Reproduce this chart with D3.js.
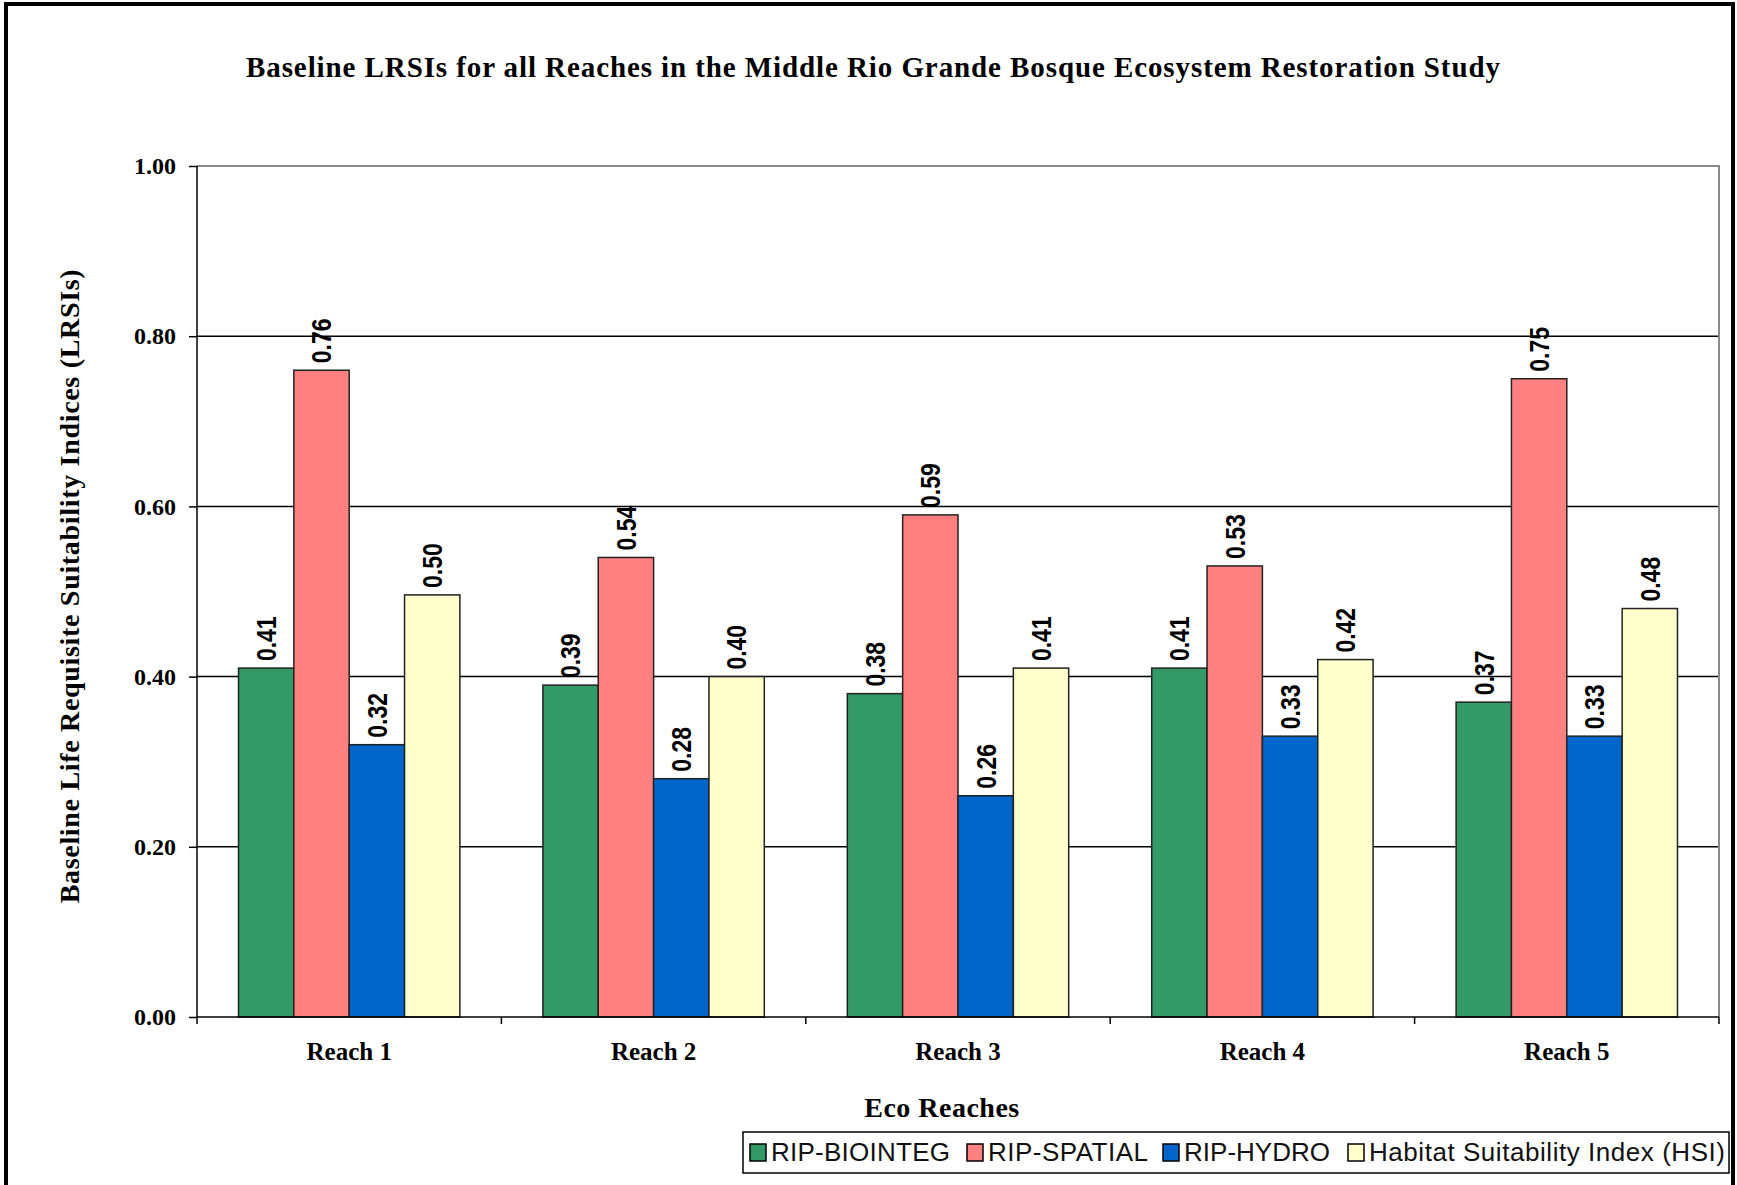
<!DOCTYPE html>
<html>
<head>
<meta charset="utf-8">
<script src="https://cdn.jsdelivr.net/npm/d3@7"></script>
<style>
  html, body { margin: 0; padding: 0; background: #fff; }
  svg { display: block; }
</style>
</head>
<body>
<svg id="chart" width="1737" height="1185"></svg>
<script>
// ---- DATA ----
const categories = ["Reach 1", "Reach 2", "Reach 3", "Reach 4", "Reach 5"];
const seriesNames = ["RIP-BIOINTEG", "RIP-SPATIAL", "RIP-HYDRO", "Habitat Suitability Index (HSI)"];
const ripBioInteg = [0.41, 0.39, 0.38, 0.41, 0.37];
const ripSpatial  = [0.76, 0.54, 0.59, 0.53, 0.75];
const ripHydro    = [0.32, 0.28, 0.26, 0.33, 0.33];
const hsi         = [0.496, 0.40, 0.41, 0.42, 0.48];
const yTickValues = [0, 0.2, 0.4, 0.6, 0.8, 1.0];
const titleText = "Baseline LRSIs for all Reaches in the Middle Rio Grande Bosque Ecosystem Restoration Study";
const yTitleText = "Baseline Life Requisite Suitability Indices (LRSIs)";
const xTitleText = "Eco Reaches";

const seriesValues = [ripBioInteg, ripSpatial, ripHydro, hsi];
const colors = ["#339966", "#FF8080", "#0066CC", "#FFFFCC"];

const svg = d3.select("#chart");
const W = 1737, H = 1185;
const plot = { left: 197, right: 1719, top: 166, bottom: 1017 };

// outer frame
svg.append("rect").attr("x", 6).attr("y", 4).attr("width", W - 10).attr("height", H + 20)
  .attr("fill", "none").attr("stroke", "#000").attr("stroke-width", 4);

const x0 = d3.scaleBand().domain(categories).range([plot.left, plot.right]).padding(0);
const bw = x0.bandwidth();
const gapHalf = bw * 0.75 / 5.5;
const x1 = d3.scaleBand().domain(d3.range(seriesNames.length)).range([gapHalf, bw - gapHalf]).padding(0);
const y = d3.scaleLinear().domain([0, 1]).range([plot.bottom, plot.top]);

// gridlines
svg.append("g").selectAll("line").data(yTickValues.filter(v => v > 0 && v < 1)).join("line")
  .attr("x1", plot.left).attr("x2", plot.right)
  .attr("y1", d => y(d)).attr("y2", d => y(d))
  .attr("stroke", "#000").attr("stroke-width", 1.5);

// plot border top/right (gray)
svg.append("path")
  .attr("d", `M${plot.left},${y(1)}H${plot.right}V${plot.bottom}`)
  .attr("fill", "none").attr("stroke", "#8a8a8a").attr("stroke-width", 2);

// bars
const rows = categories.map((c, i) => ({ cat: c, vals: seriesValues.map(s => s[i]) }));
const groups = svg.append("g").selectAll("g").data(rows).join("g")
  .attr("transform", d => `translate(${x0(d.cat)},0)`);
groups.selectAll("rect").data(d => d.vals.map((v, k) => ({ v, k }))).join("rect")
  .attr("x", d => x1(d.k)).attr("width", x1.bandwidth())
  .attr("y", d => y(d.v)).attr("height", d => y(0) - y(d.v))
  .attr("fill", d => colors[d.k]).attr("stroke", "#222").attr("stroke-width", 1.5);

// data labels (narrow bold sans, emulated by horizontal compression)
groups.selectAll("text").data(d => d.vals.map((v, k) => ({ v, k }))).join("text")
  .attr("transform", d => `translate(${x1(d.k) + x1.bandwidth() / 2},${y(d.v) - 7}) rotate(-90) scale(0.82,1)`)
  .attr("text-anchor", "start").attr("dominant-baseline", "central")
  .style("font-family", "'Liberation Sans', Arial, sans-serif")
  .style("font-weight", "bold").style("font-size", "28px").attr("fill", "#000")
  .text(d => d.v.toFixed(2));

// y axis
const yAxis = d3.axisLeft(y).tickValues(yTickValues).tickFormat(d3.format(".2f")).tickSize(8).tickPadding(13);
const gy = svg.append("g").attr("transform", `translate(${plot.left},0)`).call(yAxis);
gy.select(".domain").attr("stroke", "#000").attr("stroke-width", 1.5).attr("d", `M0,${plot.top}V${plot.bottom}`);
gy.selectAll(".tick line").attr("stroke", "#000").attr("stroke-width", 1.5);
gy.selectAll(".tick text").style("font-family", "'Liberation Serif', 'Times New Roman', serif")
  .style("font-weight", "bold").style("font-size", "24px").attr("fill", "#000");

// x axis
const xAxis = d3.axisBottom(x0).tickSize(0).tickPadding(0).tickFormat(() => "");
const gx = svg.append("g").attr("transform", `translate(0,${plot.bottom})`).call(xAxis);
gx.select(".domain").attr("stroke", "#000").attr("stroke-width", 1.5).attr("d", `M${plot.left},0H${plot.right}`);
const boundaries = categories.map(c => x0(c)).concat([plot.right]);
gx.selectAll("line.bound").data(boundaries).join("line").attr("class", "bound")
  .attr("x1", d => d).attr("x2", d => d).attr("y1", 0).attr("y2", 7)
  .attr("stroke", "#000").attr("stroke-width", 1.5);
svg.append("g").selectAll("text").data(categories).join("text")
  .attr("x", d => x0(d) + bw / 2).attr("y", 1060).attr("text-anchor", "middle")
  .style("font-family", "'Liberation Serif', 'Times New Roman', serif")
  .style("font-weight", "bold").style("font-size", "25px").text(d => d);

// helper to fit text to width using letter-spacing
function fit(sel, target) {
  const n = sel.text().length;
  const len = sel.node().getComputedTextLength();
  sel.style("letter-spacing", ((target - len) / (n - 1)) + "px");
}

// title
const title = svg.append("text").attr("x", 246).attr("y", 77).attr("text-anchor", "start")
  .style("font-family", "'Liberation Serif', 'Times New Roman', serif")
  .style("font-weight", "bold").style("font-size", "29px").text(titleText);
fit(title, 1254);

// y title
const yt = svg.append("text").attr("transform", `translate(79,${586}) rotate(-90)`).attr("text-anchor", "middle")
  .style("font-family", "'Liberation Serif', 'Times New Roman', serif")
  .style("font-weight", "bold").style("font-size", "28px").text(yTitleText);
fit(yt, 634);

// x title
const xt = svg.append("text").attr("x", 942).attr("y", 1117).attr("text-anchor", "middle")
  .style("font-family", "'Liberation Serif', 'Times New Roman', serif")
  .style("font-weight", "bold").style("font-size", "28px").text(xTitleText);
fit(xt, 155);

// legend
const lg = svg.append("g");
lg.append("rect").attr("x", 743).attr("y", 1132).attr("width", 986).attr("height", 41)
  .attr("fill", "#fff").attr("stroke", "#000").attr("stroke-width", 1.5);
const swatchX = [750, 967, 1163, 1348];
const textEnds = [950, 1148, 1330, 1725];
seriesNames.forEach((name, k) => {
  lg.append("rect").attr("x", swatchX[k]).attr("y", 1144).attr("width", 16).attr("height", 17)
    .attr("fill", colors[k]).attr("stroke", "#000").attr("stroke-width", 1.5);
  const t = lg.append("text").attr("x", swatchX[k] + 21).attr("y", 1161)
    .style("font-family", "'Liberation Sans', Arial, sans-serif")
    .style("font-size", "26px").attr("fill", "#111").text(name);
  fit(t, textEnds[k] - (swatchX[k] + 21));
});
</script>
</body>
</html>
